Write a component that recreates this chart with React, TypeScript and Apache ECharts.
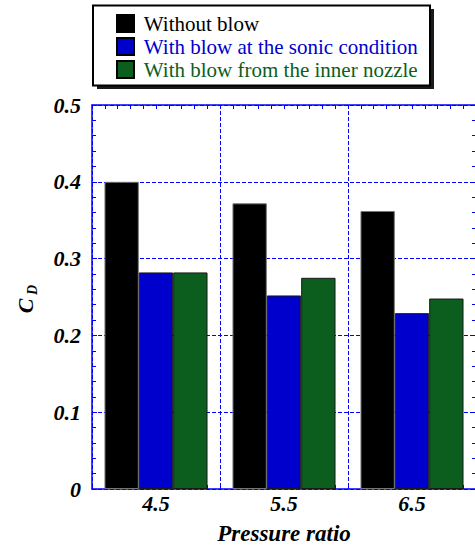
import React, { useEffect, useRef } from "react";
import * as echarts from "echarts";

// Pressure ratio groups and drag coefficient per configuration
const pressureRatios = ["4.5", "5.5", "6.5"];
const withoutBlow = [0.4, 0.372, 0.362];
const blowSonic = [0.282, 0.252, 0.229];
const blowInner = [0.282, 0.275, 0.248];

const seriesNames = [
  "Without blow",
  "With blow at the sonic condition",
  "With blow from the inner nozzle",
];
const seriesColors = ["#000000", "#0000cd", "#0b5e1d"];

const AXIS_BLUE = "#0000ff";
const SERIF = "Liberation Serif";
const LABEL_FONT = { fontFamily: SERIF, fontWeight: "bold" as const, fontStyle: "italic" as const, fontSize: 22, color: "#000" };

export default function App() {
  const ref = useRef<HTMLDivElement>(null);

  useEffect(() => {
    if (!ref.current) return;
    const chart = echarts.init(ref.current, undefined, { renderer: "svg" });

    const tickAxis = (position: "top" | "bottom", showLine: boolean) => ({
      type: "value",
      position,
      min: 4,
      max: 7,
      interval: 1,
      axisLine: { show: showLine, lineStyle: { color: AXIS_BLUE, width: 1.5 } },
      axisTick: { show: true, inside: true, length: 4, lineStyle: { color: AXIS_BLUE } },
      minorTick: { show: true, splitNumber: 10, length: 4, lineStyle: { color: AXIS_BLUE } },
      axisLabel: { show: false },
      splitLine: { show: false },
    });

    const values = [withoutBlow, blowSonic, blowInner];
    const legendText = { fontFamily: SERIF, fontSize: 21 };

    chart.setOption({
      animation: false,
      grid: { left: 92, top: 105, width: 384, height: 384, containLabel: false, outerBoundsMode: "none" },
      graphic: [
        { type: "rect", z: 0, shape: { x: 97, y: 9, width: 337, height: 80 }, style: { fill: "#1a1a1a" } },
        {
          type: "rect",
          z: 1,
          shape: { x: 93, y: 5.5, width: 337, height: 80 },
          style: { fill: "#fff", stroke: "#000", lineWidth: 2 },
        },
        {
          type: "text",
          z: 5,
          x: 25,
          y: 306,
          rotation: Math.PI / 2,
          style: { text: "C", font: `italic bold 22px "${SERIF}"`, fill: "#000", textAlign: "center", textVerticalAlign: "middle" },
        },
        {
          type: "text",
          z: 5,
          x: 32,
          y: 290,
          rotation: Math.PI / 2,
          style: { text: "D", font: `italic bold 14px "${SERIF}"`, fill: "#000", textAlign: "center", textVerticalAlign: "middle" },
        },
      ],
      legend: {
        orient: "vertical",
        left: 111,
        top: 8,
        itemWidth: 17,
        itemHeight: 17,
        itemGap: 2,
        icon: "rect",
        itemStyle: { borderColor: "#000", borderWidth: 2 },
        formatter: (name: string) => " " + name,
        data: seriesNames.map((name, i) => ({
          name,
          textStyle: { ...legendText, color: seriesColors[i] },
        })),
        textStyle: legendText,
      },
      xAxis: [
        {
          type: "category",
          data: pressureRatios,
          position: "bottom",
          axisLine: { show: true, lineStyle: { color: AXIS_BLUE, width: 1.5 } },
          axisTick: { show: false },
          axisLabel: { ...LABEL_FONT, margin: 3 },
          splitLine: { show: true, lineStyle: { color: AXIS_BLUE, type: [4, 2], width: 1 } },
          name: "Pressure ratio",
          nameLocation: "middle",
          nameGap: 33,
          nameTextStyle: { ...LABEL_FONT, fontSize: 23 },
        },
        tickAxis("bottom", false),
        tickAxis("top", true),
      ],
      yAxis: [
        {
          type: "value",
          position: "left",
          min: 0,
          max: 0.5,
          interval: 0.1,
          axisLine: { show: true, lineStyle: { color: AXIS_BLUE, width: 1.5 } },
          axisTick: { show: true, inside: true, length: 5, lineStyle: { color: AXIS_BLUE } },
          minorTick: { show: true, splitNumber: 5, length: 4, lineStyle: { color: AXIS_BLUE } },
          axisLabel: {
            ...LABEL_FONT,
            margin: 11,
            formatter: (v: number) => (v === 0 ? "0" : v.toFixed(1)),
          },
          splitLine: { show: true, lineStyle: { color: AXIS_BLUE, type: [4, 2], width: 1 } },
        },
        {
          type: "value",
          position: "right",
          min: 0,
          max: 0.5,
          interval: 0.1,
          axisLine: { show: true, lineStyle: { color: AXIS_BLUE, width: 1.5 } },
          axisTick: { show: true, inside: true, length: 5, lineStyle: { color: AXIS_BLUE } },
          minorTick: { show: true, splitNumber: 5, length: 4, lineStyle: { color: AXIS_BLUE } },
          axisLabel: { show: false },
          splitLine: { show: false },
        },
      ],
      series: seriesNames.map((name, i) => ({
        name,
        type: "bar",
        xAxisIndex: 0,
        yAxisIndex: 0,
        data: values[i],
        barGap: "0%",
        barCategoryGap: "19.5%",
        itemStyle: { color: seriesColors[i], borderColor: i === 0 ? "#777" : "#1a1a1a", borderWidth: 1 },
      })),
    });

    return () => chart.dispose();
  }, []);

  return (
    <div
      ref={ref}
      style={{ position: "fixed", left: 0, top: 0, width: 475, height: 546, background: "#fff" }}
    />
  );
}
